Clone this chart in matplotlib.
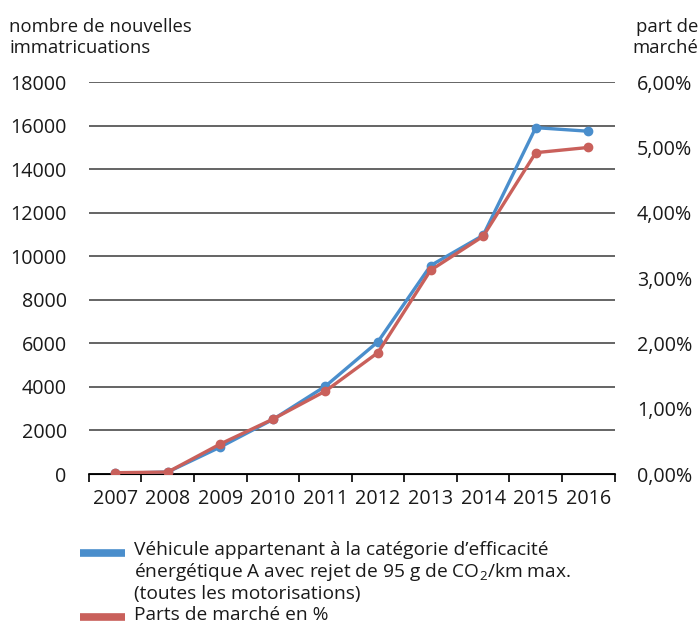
import matplotlib
matplotlib.use("Agg")
import matplotlib.pyplot as plt
from matplotlib.lines import Line2D
from matplotlib.ticker import FuncFormatter

years = ["2007", "2008", "2009", "2010", "2011", "2012", "2013", "2014", "2015", "2016"]
registrations = [30, 90, 1240, 2505, 4035, 6080, 9575, 10965, 15910, 15745]
market_share = [0.02, 0.03, 0.46, 0.84, 1.27, 1.86, 3.12, 3.64, 4.92, 5.00]

left_ticks = [0, 2000, 4000, 6000, 8000, 10000, 12000, 14000, 16000, 18000]
right_ticks = [0, 1, 2, 3, 4, 5, 6]

label_blue = "Véhicule appartenant à la catégorie d’efficacité\nénergétique A avec rejet de 95 g de CO$_2$/km max.\n(toutes les motorisations)"
label_red = "Parts de marché en %"
left_title = "nombre de nouvelles\nimmatricuations"
right_title = "part de\nmarché"

plt.rcParams['font.family'] = ['Open Sans', 'DejaVu Sans']
plt.rcParams['mathtext.fontset'] = 'custom'
plt.rcParams['mathtext.rm'] = 'Open Sans'
plt.rcParams['mathtext.it'] = 'Open Sans'
plt.rcParams['mathtext.default'] = 'rm'
plt.rcParams['text.color'] = '#1a1a1a'
plt.rcParams['xtick.color'] = '#1a1a1a'
plt.rcParams['ytick.color'] = '#1a1a1a'

BLUE = "#4A8ECC"
RED = "#C9605B"
FS_T = 13.3
FS_K = 14.2
FS_L = 13.8

fig = plt.figure(figsize=(7.0, 6.27), dpi=100)
ax = fig.add_axes([0.127, 0.244, 0.751, 0.625])
ax2 = ax.twinx()

x = list(range(len(years)))
ax.plot(x, registrations, color=BLUE, lw=2.4, marker='o', ms=6, zorder=3)
ax2.plot(x, market_share, color=RED, lw=2.4, marker='o', ms=6, zorder=3)

ax.set_xlim(-0.5, len(years) - 0.5)
ax.set_ylim(0, 18000)
ax2.set_ylim(0, 6)
ax.set_yticks(left_ticks)
ax2.set_yticks(right_ticks)
ax2.yaxis.set_major_formatter(FuncFormatter(lambda v, p: f"{v:.2f}%".replace('.', ',')))

ax.yaxis.grid(True, color="#3a3a3a", lw=1.1)
ax.set_axisbelow(True)
for a in (ax, ax2):
    for s in ("left", "right", "top"):
        a.spines[s].set_visible(False)
ax.spines["bottom"].set_color("black")
ax.spines["bottom"].set_linewidth(1.2)

ax.set_xticks(x)
ax.set_xticklabels(years, fontsize=FS_K)
ax.tick_params(axis='x', which='major', length=0, pad=11)
ax.set_xticks([i - 0.5 for i in range(len(years) + 1)], minor=True)
ax.tick_params(axis='x', which='minor', length=6, width=1.2, color='black')
ax.tick_params(axis='y', length=0, pad=16, labelsize=FS_K)
ax2.tick_params(axis='y', length=0, pad=16, labelsize=FS_K)

fig.text(0.013, 0.972, left_title, fontsize=FS_T, va='top', ha='left', linespacing=1.25)
fig.text(0.997, 0.972, right_title, fontsize=FS_T, va='top', ha='right', linespacing=1.25)

# legend
W, H = 700, 627
def fx(px): return px / W
def fy(py): return 1 - py / H
fig.add_artist(Line2D([fx(80), fx(125)], [fy(553), fy(553)], color=BLUE, lw=5.5, solid_capstyle='butt'))
fig.text(fx(134), fy(541), label_blue, fontsize=FS_L, va='top', ha='left', linespacing=1.15)
fig.add_artist(Line2D([fx(80), fx(125)], [fy(617), fy(617)], color=RED, lw=5.5, solid_capstyle='butt'))
fig.text(fx(134), fy(606), label_red, fontsize=FS_L, va='top', ha='left')

fig.savefig("out.png", dpi=100)
